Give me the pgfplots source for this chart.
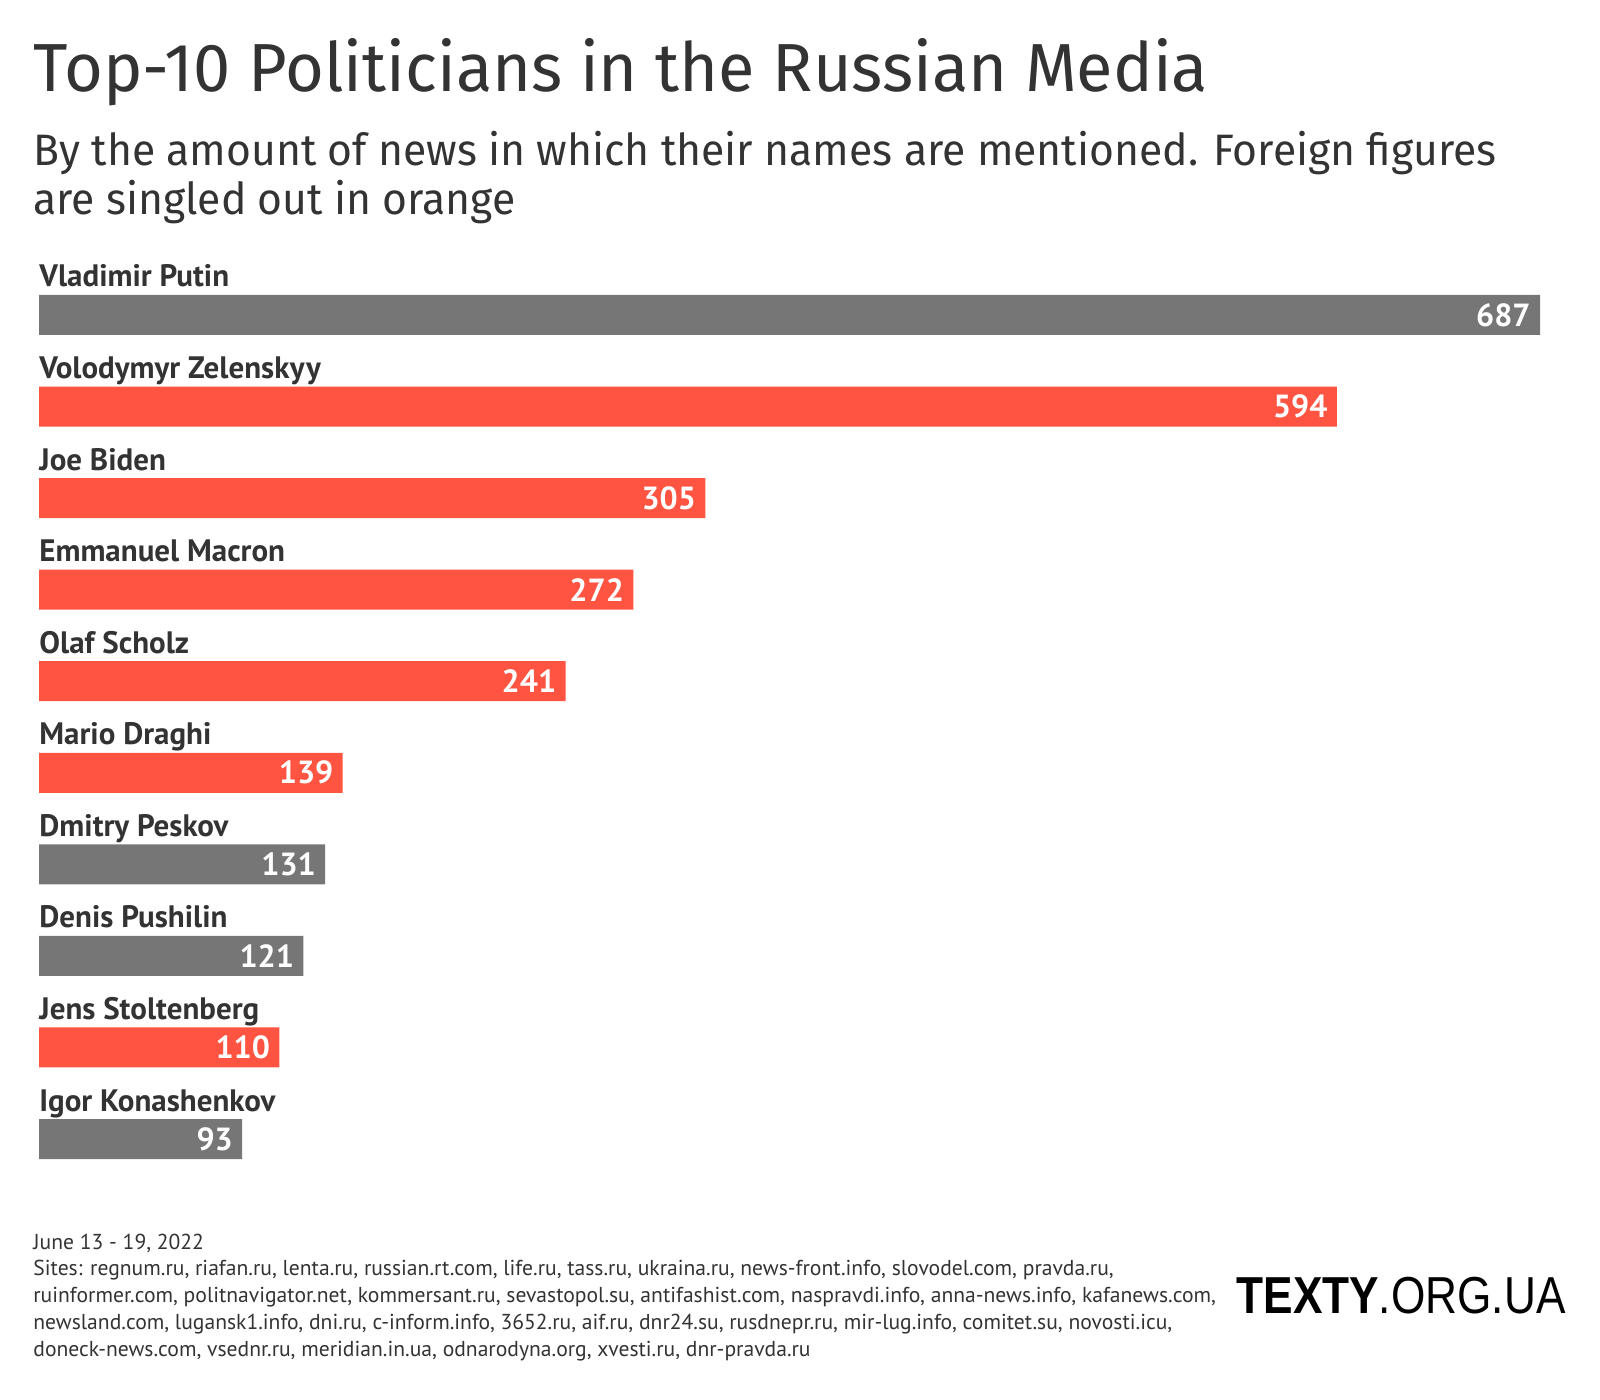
\documentclass[border=0pt]{standalone}
\usepackage{pgfplots}
\pgfplotsset{compat=1.18}
\usepackage{fontspec}
\setmainfont{PT Sans}
\newfontfamily\titlefont[FakeStretch=0.98]{Fira Sans}
\newfontfamily\subfont[FakeStretch=0.97]{Fira Sans}
\newfontfamily\logofont[FakeStretch=0.85]{Liberation Sans}
\definecolor{ink}{HTML}{333333}
\definecolor{foreign}{HTML}{FF5441}
\definecolor{domestic}{HTML}{767676}

\begin{document}
\begin{tikzpicture}
\path[use as bounding box] (0,0) rectangle (800pt,-700pt);

% titles
\node[anchor=base west, inner sep=0pt, text=ink, font=\titlefont\fontsize{34}{40}\selectfont]
  at (16.5pt,-46pt) {Top-10 Politicians in the Russian Media};
\node[anchor=base west, inner sep=0pt, text=ink, font=\subfont\fontsize{22}{25}\selectfont]
  at (16.5pt,-83pt) {By the amount of news in which their names are mentioned. Foreign figures};
\node[anchor=base west, inner sep=0pt, text=ink, font=\subfont\fontsize{22}{25}\selectfont]
  at (16.5pt,-107.5pt) {are singled out in orange};

\begin{axis}[
    at={(19.5pt,-134.6pt)}, anchor=north west,
    scale only axis,
    width=750.5pt, height=457.8pt,
    xbar, bar width=20pt, bar shift=0pt,
    xmin=0, xmax=687, ymin=-0.5, ymax=9.5,
    y dir=reverse,
    axis line style={draw=none},
    major tick length=0pt,
    xtick=\empty,
    ytick={0,...,9},
    yticklabels={Vladimir Putin, Volodymyr Zelenskyy, Joe Biden, Emmanuel Macron,
        Olaf Scholz, Mario Draghi, Dmitry Peskov, Denis Pushilin,
        Jens Stoltenberg, Igor Konashenkov},
    yticklabel style={anchor=base west, inner sep=0pt, yshift=14pt, text=ink,
        font=\bfseries\fontsize{15.5}{17}\selectfont},
    nodes near coords,
    every node near coord/.append style={anchor=east, inner sep=0pt, xshift=-4.5pt, text=white,
        font=\bfseries\fontsize{16}{18}\selectfont,
        /pgf/number format/assume math mode=true},
    clip=false,
]
% domestic figures (grey)
\addplot[fill=domestic, draw=none] coordinates {(687,0) (131,6) (121,7) (93,9)};
% foreign figures (orange)
\addplot[fill=foreign, draw=none] coordinates {(594,1) (305,2) (272,3) (241,4) (139,5) (110,8)};
\end{axis}

% footer
\begin{scope}[every node/.style={anchor=base west, inner sep=0pt, text=ink, font=\fontsize{10.8}{13}\selectfont}]
\node at (16.5pt,-624.5pt) {June 13 - 19, 2022};
\node at (16.5pt,-637.9pt) {Sites: regnum.ru, riafan.ru, lenta.ru, russian.rt.com, life.ru, tass.ru, ukraina.ru, news-front.info, slovodel.com, pravda.ru,};
\node at (16.5pt,-651.3pt) {ruinformer.com, politnavigator.net, kommersant.ru, sevastopol.su, antifashist.com, naspravdi.info, anna-news.info, kafanews.com,};
\node at (16.5pt,-664.7pt) {newsland.com, lugansk1.info, dni.ru, c-inform.info, 3652.ru, aif.ru, dnr24.su, rusdnepr.ru, mir-lug.info, comitet.su, novosti.icu,};
\node at (16.5pt,-678.1pt) {doneck-news.com, vsednr.ru, meridian.in.ua, odnarodyna.org, xvesti.ru, dnr-pravda.ru};
\end{scope}

\node[anchor=base east, inner sep=0pt, text=black, font=\logofont\fontsize{26}{30}\selectfont]
  at (783pt,-656.5pt) {\textbf{TEXTY}.ORG.UA};
\end{tikzpicture}
\end{document}
